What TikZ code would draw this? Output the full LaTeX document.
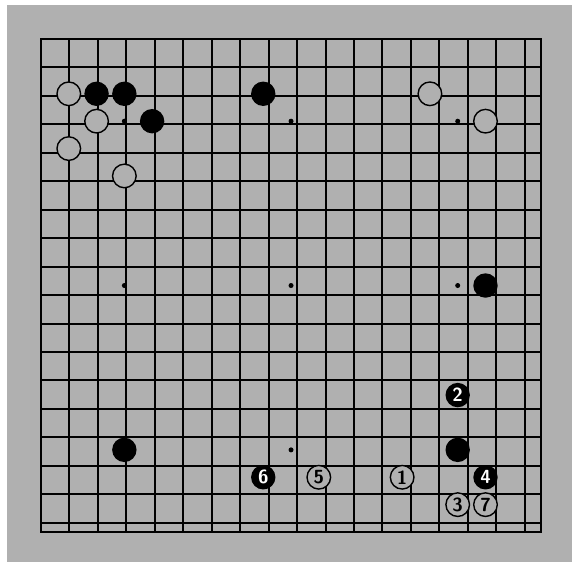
\documentclass[tikz,border=0pt]{standalone}
\usepackage{xcolor}
\usepackage{tikz}

\definecolor{boardgray}{RGB}{176,176,176}

\begin{document}
\begin{tikzpicture}[x=27.78pt,y=-27.39pt,
  bstone/.style={circle,fill=black,inner sep=0pt,minimum size=24.4pt,text=white,font=\sffamily\bfseries\fontsize{19}{19}\selectfont},
  wstone/.style={circle,draw=black,fill=boardgray,line width=1.4pt,inner sep=0pt,minimum size=23.6pt,text=black,font=\sffamily\bfseries\fontsize{19}{19}\selectfont},
  star/.style={circle,fill=black,inner sep=0pt,minimum size=5pt}]
  \useasboundingbox[fill=white] (-1.476,-1.424) rectangle (19.114,19.168);
  \fill[boardgray] (-1.224,-1.241) rectangle (19.114,19.08);
  % grid
  \draw[line width=2pt] (0,0) grid (18,18);
  \draw[line width=2.8pt] (0,0) rectangle (18,18);
  % star points
  \node[star] (s1) at (3,3) {};
  \node[star] (s2) at (9,3) {};
  \node[star] (s3) at (15,3) {};
  \node[star] (s4) at (3,9) {};
  \node[star] (s5) at (9,9) {};
  \node[star] (s6) at (15,9) {};
  \node[star] (s7) at (3,15) {};
  \node[star] (s8) at (9,15) {};
  \node[star] (s9) at (15,15) {};
  % stones on the board
  \node[wstone] (w1) at (1,2) {};
  \node[wstone] (w2) at (2,3) {};
  \node[wstone] (w3) at (1,4) {};
  \node[wstone] (w4) at (3,5) {};
  \node[wstone] (w5) at (14,2) {};
  \node[wstone] (w6) at (16,3) {};
  \node[bstone] (b1) at (2,2) {};
  \node[bstone] (b2) at (3,2) {};
  \node[bstone] (b3) at (4,3) {};
  \node[bstone] (b4) at (8,2) {};
  \node[bstone] (b5) at (16,9) {};
  \node[bstone] (b6) at (3,15) {};
  \node[bstone] (b7) at (15,15) {};
  % moves
  \node[wstone] (m1) at (13,16) {1};
  \node[bstone] (m2) at (15,13) {2};
  \node[wstone] (m3) at (15,17) {3};
  \node[bstone] (m4) at (16,16) {4};
  \node[wstone] (m5) at (10,16) {5};
  \node[bstone] (m6) at (8,16) {6};
  \node[wstone] (m7) at (16,17) {7};
\end{tikzpicture}
\end{document}
